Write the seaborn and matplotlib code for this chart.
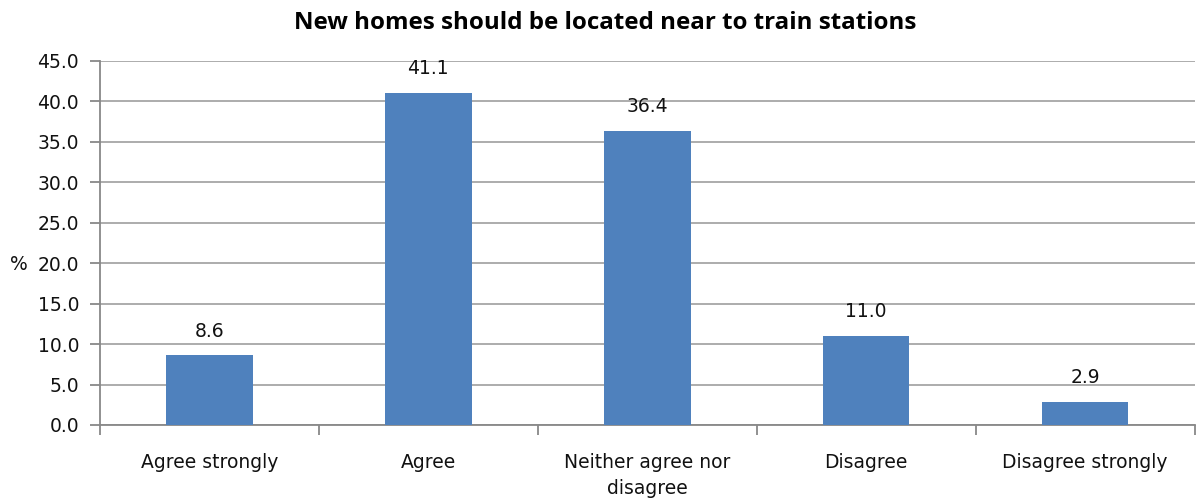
import matplotlib
matplotlib.use("Agg")
import matplotlib.pyplot as plt
import seaborn as sns
import pandas as pd
import numpy as np

categories = ["Agree strongly", "Agree", "Neither agree nor\ndisagree", "Disagree", "Disagree strongly"]
values = [8.6, 41.1, 36.4, 11.0, 2.9]
y_ticks = [0, 5, 10, 15, 20, 25, 30, 35, 40, 45]
title = "New homes should be located near to train stations"

sns.set_theme(style="white")
plt.rcParams["font.family"] = ["DejaVu Sans"]

df = pd.DataFrame({"category": categories, "value": values})

fig = plt.figure(figsize=(11.97, 5.0), dpi=100)
ax = fig.add_axes([0.0835, 0.15, 0.9145, 0.728])

sns.barplot(data=df, x="category", y="value", color="#4F81BD", width=0.395,
            saturation=1, linewidth=0, ax=ax, zorder=3)

ax.set_ylim(0, 45)
ax.set_xlim(-0.5, len(categories) - 0.5)
ax.set_yticks(y_ticks)
ax.set_yticklabels([f"{t:.1f}" for t in y_ticks], fontsize=13.5, color="#111111")
ax.yaxis.grid(True, color="#A6A6A6", linewidth=1.3, zorder=0)
ax.set_axisbelow(True)

for s in ["top", "right"]:
    ax.spines[s].set_visible(False)
for s in ["left", "bottom"]:
    ax.spines[s].set_color("#888888")
    ax.spines[s].set_linewidth(1.3)

ax.tick_params(axis="y", which="major", left=True, length=7, width=1.3, color="#888888", pad=8)
ax.tick_params(axis="x", which="major", bottom=False, labelsize=13.5, labelcolor="#111111", pad=14)
ax.set_xticks(np.arange(-0.5, len(categories)), minor=True)
ax.tick_params(axis="x", which="minor", bottom=True, length=7, width=1.3, color="#888888")

for lbl in ax.get_xticklabels():
    lbl.set_linespacing(1.5)

ax.set_xlabel("")
ax.set_ylabel("%", fontsize=13.5, rotation=0, color="#111111", va="center", ha="center")
ax.yaxis.set_label_coords(-0.074, 0.44)

for i, v in enumerate(values):
    ax.annotate(f"{v:.1f}", (i, v), xytext=(0, 10.5), textcoords="offset points",
                ha="center", va="bottom", fontsize=13.5, color="#111111")

fig.suptitle(title, fontsize=17.4, fontweight="bold", family=["Open Sans", "DejaVu Sans"],
             x=0.506, y=0.978, color="#000000")

fig.savefig("out.png", dpi=100, facecolor="white")
